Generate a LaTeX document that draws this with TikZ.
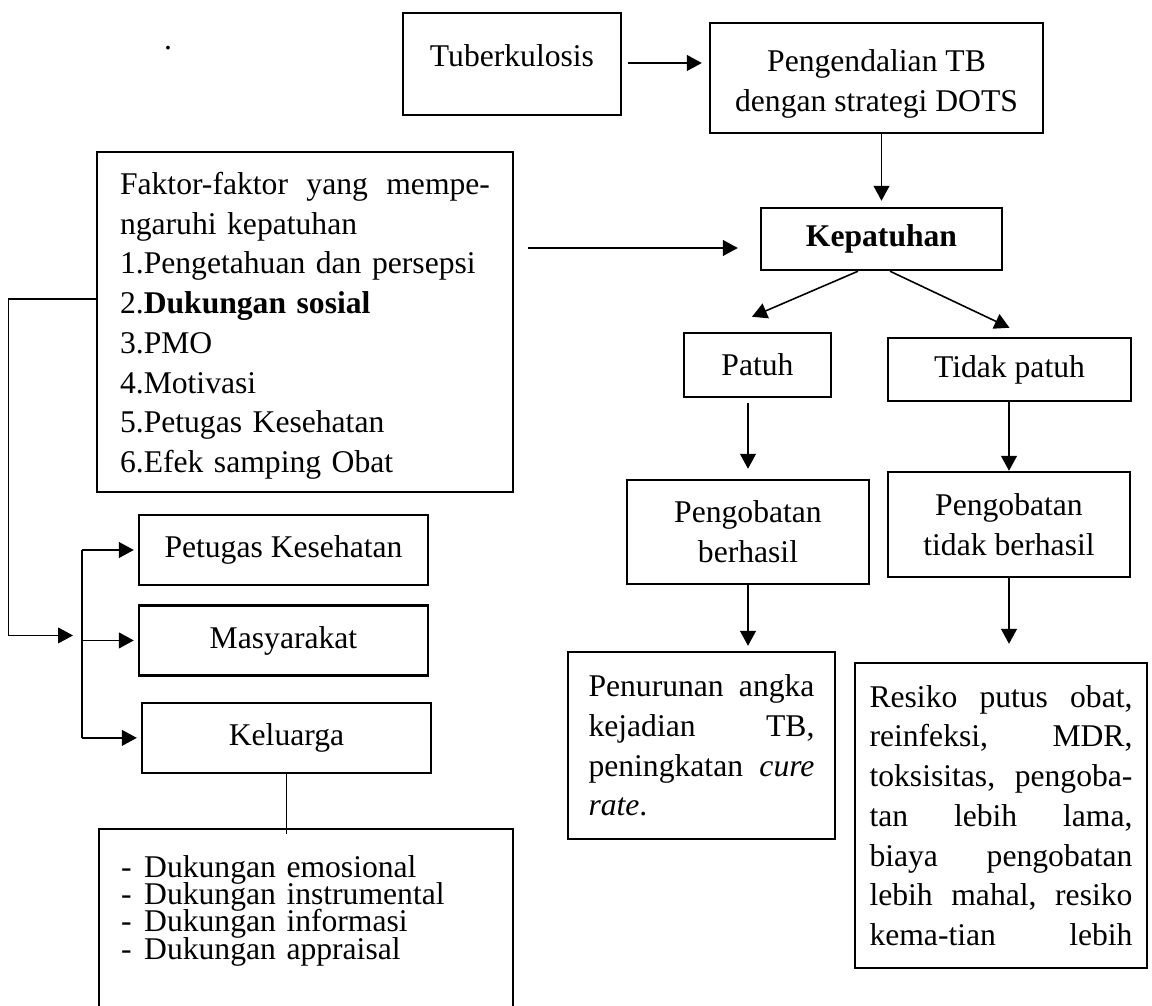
\documentclass[tikz,border=0pt]{standalone}
\usepackage{fontspec}
\setmainfont{Liberation Serif}
\usetikzlibrary{arrows.meta,positioning}
\newcommand{\fullline}[2]{\makebox[#1]{#2}}

\begin{document}
\begin{tikzpicture}[x=0.02cm, y=-0.02cm,
  box/.style={draw, line width=1.4pt, align=center, inner sep=0pt, font=\fontsize{18}{22.6}\selectfont},
  para/.style={box, align=left},
  arr/.style={-{Triangle[length=8.5pt,width=9pt]}, line width=0.9pt},
  line/.style={line width=0.9pt}]
  \clip (0,0) rectangle (1152,1006);
  \node[inner sep=0pt, font=\fontsize{18}{22.6}\selectfont] (dot) at (168,48) {.};
  \node[box, minimum width=4.36cm, minimum height=2.04cm, text depth=10pt] (tb) at (512,64) {Tuberkulosis};
  \node[box, minimum width=6.66cm, minimum height=2.2cm] (dots) at (876.5,78) {\rule{0pt}{19pt}Pengendalian TB\\dengan strategi DOTS};
  \node[box, minimum width=4.82cm, minimum height=1.24cm, font=\fontsize{18}{22.6}\selectfont\bfseries] (kep) at (881.5,239) {Kepatuhan};
  \node[para, text width=7.4cm, inner xsep=0.46cm, minimum height=6.8cm] (faktor) at (305,322) {%
    \fullline{7.4cm}{\rule{0pt}{17pt}Faktor-faktor\hfill yang\hfill mempe-}\\ngaruhi kepatuhan\\1.Pengetahuan dan persepsi\\2.\textbf{Dukungan sosial}\\3.PMO\\4.Motivasi\\5.Petugas Kesehatan\\6.Efek samping Obat};
  \node[box, minimum width=5.78cm, minimum height=1.4cm] (pet) at (283.5,550) {Petugas Kesehatan};
  \node[box, minimum width=5.78cm, minimum height=1.4cm, below=0.36cm of pet] (masy) {Masyarakat};
  \node[box, minimum width=5.78cm, minimum height=1.4cm, below=0.5cm of masy, xshift=0.06cm] (kel) {Keluarga};
  \node[para, anchor=north west, text width=7.4cm, inner xsep=0.44cm, inner ysep=0.52cm, text depth=2.72cm,
    font=\fontsize{18}{20}\selectfont] (list) at (98,828) {%
    \makebox[0.46cm][l]{-}Dukungan emosional\\[-4.4pt]\makebox[0.46cm][l]{-}Dukungan instrumental\\[-4.4pt]\makebox[0.46cm][l]{-}Dukungan informasi\\[-4.4pt]\makebox[0.46cm][l]{-}Dukungan appraisal};
  \node[box, minimum width=2.94cm, minimum height=1.28cm] (patuh) at (757.5,365) {Patuh};
  \node[box, minimum width=4.86cm, minimum height=1.26cm] (tpatuh) at (1009.5,369.5) {Tidak patuh};
  \node[box, minimum width=4.84cm, minimum height=2.08cm] (berhasil) at (748,532) {Pengobatan\\berhasil};
  \node[box, minimum width=4.84cm, minimum height=2.1cm] (tberhasil) at (1009,524.5) {Pengobatan\\tidak berhasil};
  \node[para, text width=4.52cm, inner xsep=0.41cm, minimum height=3.74cm] (turun) at (701.5,745.5) {%
    \fullline{4.52cm}{Penurunan\hfill angka}\\\fullline{4.52cm}{kejadian\hfill TB,}\\\fullline{4.52cm}{peningkatan\hfill\textit{cure}}\\\textit{rate}.};
  \node[para, text width=5.26cm, inner xsep=0.29cm, minimum height=6.1cm] (resiko) at (1001,815.5) {%
    \fullline{5.26cm}{Resiko\hfill putus\hfill obat,}\\\fullline{5.26cm}{reinfeksi,\hfill MDR,}\\\fullline{5.26cm}{toksisitas,\hfill pengoba-}\\\fullline{5.26cm}{tan\hfill lebih\hfill lama,}\\\fullline{5.26cm}{biaya\hfill pengobatan}\\\fullline{5.26cm}{lebih\hfill mahal,\hfill resiko}\\\fullline{5.26cm}{kema-tian\hfill lebih}};
  % top row and the main path
  \draw[arr, shorten <=0.12cm, shorten >=0.14cm] ([yshift=0.02cm]tb.east) -- ([yshift=0.02cm]tb.east -| dots.west);
  \draw[arr, shorten >=0.12cm] (dots.south -| kep.north) -- (kep.north);
  \coordinate (kepin) at ([yshift=-0.18cm]kep.west);
  \draw[arr, shorten <=0.28cm, shorten >=0.44cm] (faktor.east |- kepin) -- (kepin);
  \draw[arr] ([xshift=-0.47cm]kep.south) -- ([xshift=-0.11cm, yshift=0.3cm]patuh.north);
  \draw[arr] ([xshift=0.17cm]kep.south) -- ([yshift=0.18cm]tpatuh.north);
  \draw[arr, shorten <=0.1cm, shorten >=0.2cm] (patuh.south -| berhasil.north) -- (berhasil.north);
  \draw[arr] (tpatuh.south -| tberhasil.north) -- (tberhasil.north);
  \draw[arr, shorten >=0.1cm] (berhasil.south) -- (berhasil.south |- turun.north);
  \draw[arr, shorten >=0.36cm] (tberhasil.south) -- (tberhasil.south |- resiko.north);
  % social support branch
  \coordinate (bus) at (82,0);
  \draw[arr, line width=0.6pt, shorten >=0.18cm] ([yshift=0.46cm]faktor.west) -- ++(-87,0) |- ([yshift=0.1cm]masy.west -| bus);
  \draw[line] (pet.west -| bus) -- (kel.west -| bus);
  \draw[arr, shorten >=0.08cm] (pet.west -| bus) -- (pet.west);
  \draw[arr, shorten >=0.08cm] (masy.west -| bus) -- (masy.west);
  \draw[arr, shorten >=0.08cm] (kel.west -| bus) -- (kel.west);
  \draw[line, shorten >=-0.12cm] (kel.south) -- (kel.south |- list.north);
\end{tikzpicture}
\end{document}
